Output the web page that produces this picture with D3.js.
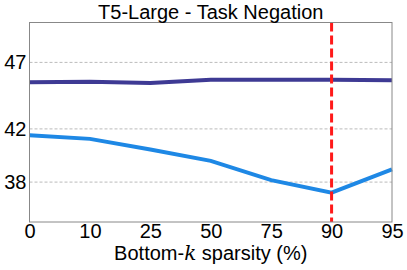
<!DOCTYPE html>
<html>
<head>
<meta charset="utf-8">
<script src="https://cdn.jsdelivr.net/npm/d3@7"></script>
<style>
  body { margin: 0; background: #fff; }
  text { font-family: "Liberation Sans", Arial, sans-serif; fill: #000; }
</style>
</head>
<body>
<div id="chart"></div>
<script>
const categories = ["0", "10", "25", "50", "75", "90", "95"];
const darkSeries = [45.5, 45.55, 45.45, 45.7, 45.7, 45.7, 45.65];
const lightSeries = [41.52, 41.25, 40.45, 39.6, 38.15, 37.2, 38.95];
const yTicks = [38, 42, 47];
const markerCategory = "90";

const W = 407, H = 270;
const margin = { top: 22.5, right: 15, bottom: 48, left: 29.5 };

const svg = d3.select("#chart").append("svg")
  .attr("width", W)
  .attr("height", H);

const x = d3.scalePoint()
  .domain(categories)
  .range([margin.left, W - margin.right]);

const y = d3.scaleLinear()
  .domain([35, 50])
  .range([H - margin.bottom, margin.top]);

// grid lines
svg.selectAll("line.grid")
  .data(yTicks)
  .enter()
  .append("line")
  .attr("class", "grid")
  .attr("x1", margin.left)
  .attr("x2", W - margin.right)
  .attr("y1", (d) => y(d))
  .attr("y2", (d) => y(d))
  .attr("stroke", "#bbb")
  .attr("stroke-width", 1)
  .attr("stroke-dasharray", "3,2");

const line = d3.line()
  .x((d, i) => x(categories[i]))
  .y((d) => y(d));

svg.append("path")
  .datum(darkSeries)
  .attr("fill", "none")
  .attr("stroke", "#3e3a94")
  .attr("stroke-width", 4)
  .attr("d", line);

svg.append("path")
  .datum(lightSeries)
  .attr("fill", "none")
  .attr("stroke", "#1e88e5")
  .attr("stroke-width", 4)
  .attr("d", line);

// vertical marker
svg.append("line")
  .attr("x1", x(markerCategory))
  .attr("x2", x(markerCategory))
  .attr("y1", margin.top)
  .attr("y2", H - margin.bottom)
  .attr("stroke", "#ff1a1a")
  .attr("stroke-width", 3)
  .attr("stroke-dasharray", "9,4");

// frame
svg.append("rect")
  .attr("x", margin.left)
  .attr("y", margin.top)
  .attr("width", W - margin.left - margin.right)
  .attr("height", H - margin.top - margin.bottom)
  .attr("fill", "none")
  .attr("stroke", "#888")
  .attr("stroke-width", 1);

// x axis
const xAxis = svg.append("g")
  .attr("transform", `translate(0,${H - margin.bottom})`)
  .call(d3.axisBottom(x).tickSize(0).tickPadding(2));
xAxis.select(".domain").remove();
xAxis.selectAll("text")
  .style("font-size", "20px")
  .attr("fill", "#000");

// y axis
const yAxis = svg.append("g")
  .attr("transform", `translate(${margin.left},0)`)
  .call(d3.axisLeft(y).tickValues(yTicks).tickSize(0).tickPadding(3));
yAxis.select(".domain").remove();
yAxis.selectAll("text")
  .style("font-size", "20px")
  .attr("fill", "#000");

// title
svg.append("text")
  .attr("x", (margin.left + W - margin.right) / 2)
  .attr("y", 18.5)
  .attr("text-anchor", "middle")
  .style("font-size", "20px")
  .text("T5-Large - Task Negation");

// x label
const xl = svg.append("text")
  .attr("x", (margin.left + W - margin.right) / 2)
  .attr("y", 260)
  .attr("text-anchor", "middle")
  .style("font-size", "20px");
xl.append("tspan").text("Bottom-");
xl.append("tspan")
  .style("font-family", "'DejaVu Serif', serif")
  .style("font-style", "italic")
  .text("k");
xl.append("tspan").text(" sparsity (%)");
</script>
</body>
</html>
